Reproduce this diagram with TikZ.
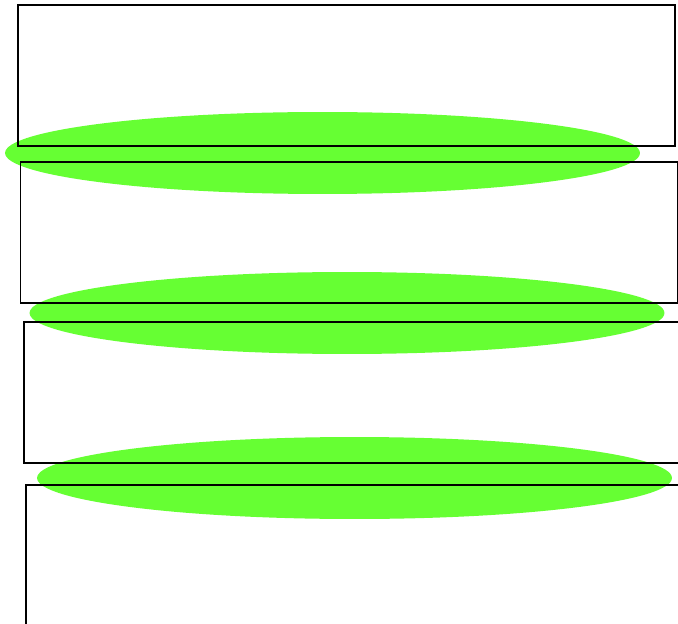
\documentclass[tikz,border=0pt]{standalone}
\usepackage{xcolor}
\usepackage{tikz}
\usetikzlibrary{shapes.geometric}

\definecolor{lensgreen}{RGB}{102,255,51}

\begin{document}
\begin{tikzpicture}[x=0.02cm, y=-0.02cm]
\useasboundingbox (0,0) rectangle (678,624);
\clip (0,0) rectangle (678,624);
\fill[white] (0,0) rectangle (678,624);

% Green ellipses (behind the boxes)
\foreach \i/\x/\y in {1/322.5/153, 2/347/313, 3/354.5/478} {
   \node[ellipse, fill=lensgreen, inner sep=0, minimum width=12.7cm, minimum height=1.64cm] (e\i) at (\x, \y) {};
}

% Boxes
\foreach \i/\x/\y in {1/346.5/75.5, 2/349/232.5, 3/352.5/392.5, 4/354.5/555.5} {
   \node[draw, rectangle, line width=1pt, inner sep=0, minimum width=13.14cm, minimum height=2.82cm] (b\i) at (\x, \y) {};
}
\end{tikzpicture}
\end{document}
